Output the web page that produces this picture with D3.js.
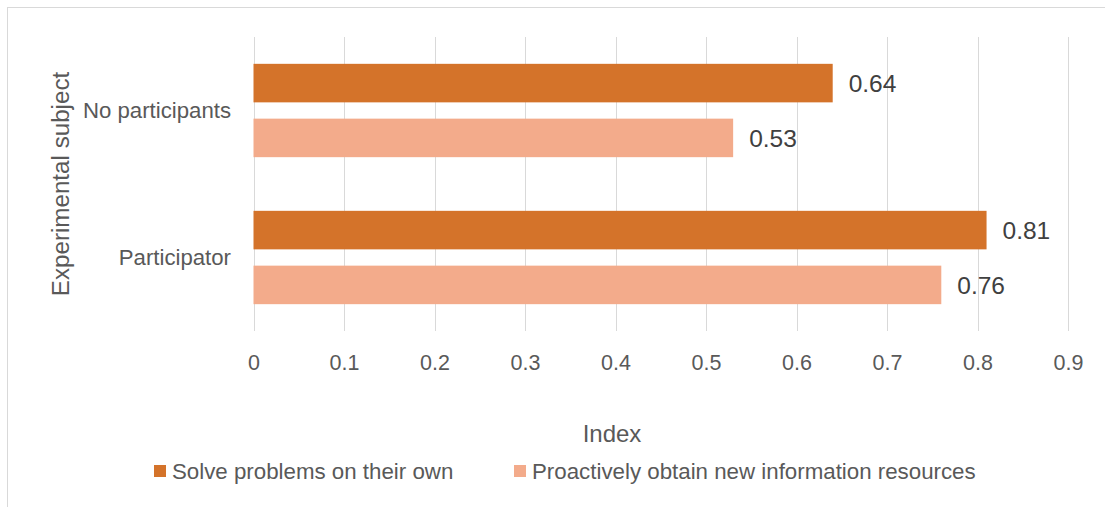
<!DOCTYPE html>
<html>
<head>
<meta charset="utf-8">
<script src="https://cdn.jsdelivr.net/npm/d3@7"></script>
<style>
  html, body { margin: 0; padding: 0; background: #ffffff; }
  svg { display: block; font-family: "Liberation Sans", Arial, sans-serif; }
</style>
</head>
<body>
<svg id="chart" width="1105" height="507"></svg>
<script>
const categories = ["No participants", "Participator"];
const seriesNames = ["Solve problems on their own", "Proactively obtain new information resources"];
const solveValues = [0.64, 0.81];
const proactiveValues = [0.53, 0.76];
const tickValues = [0, 0.1, 0.2, 0.3, 0.4, 0.5, 0.6, 0.7, 0.8, 0.9];
const colors = ["#D4732A", "#F3AB8B"];
const xTitle = "Index";
const yTitle = "Experimental subject";

const seriesValues = [solveValues, proactiveValues];
const rows = [];
categories.forEach((c, i) => {
  seriesNames.forEach((s, j) => rows.push({ cat: c, series: s, value: seriesValues[j][i], idx: j }));
});

const svg = d3.select("#chart");
const textColor = "#595959";
const gridColor = "#D9D9D9";

// outer chart border (right/bottom outside the viewport)
svg.append("rect").attr("x", 7.5).attr("y", 7.5).attr("width", 1200).attr("height", 600)
  .attr("fill", "none").attr("stroke", gridColor).attr("stroke-width", 1);

const x = d3.scaleLinear().domain([0, 0.9]).range([253.5, 1068]);
const y = d3.scaleBand().domain(categories).range([37, 331]).paddingInner(0.365).paddingOuter(0.1825);
const ySub = d3.scaleBand().domain(seriesNames).range([0, y.bandwidth()]).paddingInner(0.297);

// gridlines
svg.append("g").selectAll("line").data(tickValues).join("line")
  .attr("x1", d => Math.round(x(d)) + 0.5).attr("x2", d => Math.round(x(d)) + 0.5)
  .attr("y1", 37).attr("y2", 331)
  .attr("stroke", gridColor).attr("stroke-width", 1);

// x axis tick labels
const xAxis = d3.axisBottom(x).tickValues(tickValues).tickSize(0).tickPadding(0)
  .tickFormat(d => d3.format("~g")(d));
const gx = svg.append("g").attr("transform", "translate(0,355)").call(xAxis);
gx.select(".domain").remove();
gx.selectAll("text").attr("fill", textColor).attr("font-size", 21.5)
  .attr("font-family", "Liberation Sans, Arial, sans-serif").attr("dy", "0.68em").attr("y", 0);

// category labels
const yAxis = d3.axisLeft(y).tickSize(0).tickPadding(0);
const gy = svg.append("g").attr("transform", "translate(231,0)").call(yAxis);
gy.select(".domain").remove();
gy.selectAll("text").attr("fill", textColor).attr("font-size", 22.2)
  .attr("font-family", "Liberation Sans, Arial, sans-serif");

// bars
svg.append("g").selectAll("rect").data(rows).join("rect")
  .attr("x", x(0))
  .attr("y", d => y(d.cat) + ySub(d.series))
  .attr("width", d => x(d.value) - x(0))
  .attr("height", ySub.bandwidth())
  .attr("fill", d => colors[d.idx]);

// data labels
svg.append("g").selectAll("text").data(rows).join("text")
  .attr("x", d => x(d.value) + 16)
  .attr("y", d => y(d.cat) + ySub(d.series) + ySub.bandwidth() / 2)
  .attr("dy", "0.36em")
  .attr("fill", "#404040").attr("font-size", 24.5)
  .text(d => d.value.toFixed(2));

// axis titles
svg.append("text").attr("x", 612).attr("y", 433).attr("dy", "0.36em")
  .attr("text-anchor", "middle").attr("fill", textColor).attr("font-size", 24).text(xTitle);
svg.append("text").attr("transform", "translate(60,184) rotate(-90)").attr("dy", "0.36em")
  .attr("text-anchor", "middle").attr("fill", textColor).attr("font-size", 24.2).text(yTitle);

// legend
const legendX = [154, 514];
const lg = svg.append("g").selectAll("g").data(seriesNames).join("g")
  .attr("transform", (d, i) => `translate(${legendX[i]},471)`);
lg.append("rect").attr("x", 0).attr("y", -6).attr("width", 12).attr("height", 12)
  .attr("fill", (d, i) => colors[i]);
lg.append("text").attr("x", 18).attr("y", 0).attr("dy", "0.36em")
  .attr("fill", textColor).attr("font-size", 22.3).text(d => d);
</script>
</body>
</html>
